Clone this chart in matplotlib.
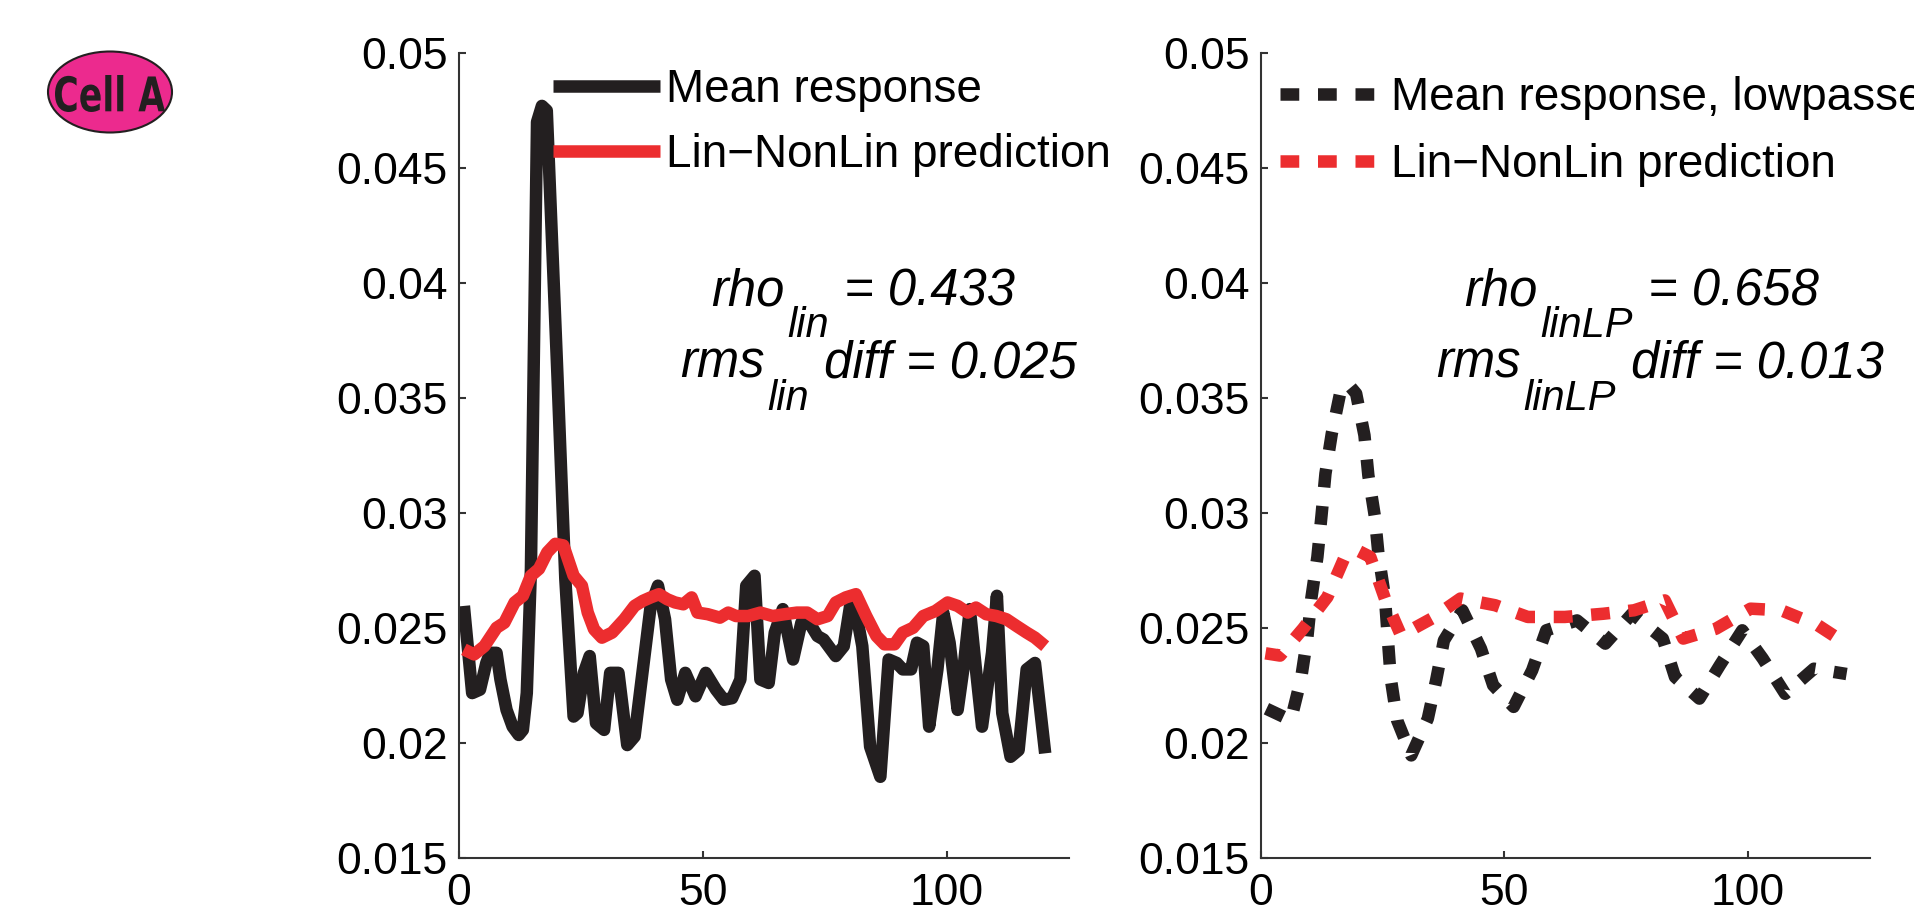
import matplotlib
matplotlib.use("Agg")
import matplotlib.pyplot as plt
from matplotlib.patches import Ellipse, PathPatch
from matplotlib.textpath import TextPath
from matplotlib.font_manager import FontProperties
from matplotlib.transforms import Affine2D

plt.rcParams['font.family'] = ['Liberation Sans', 'DejaVu Sans']

BLACK = '#231F20'
RED = '#EC2D2F'
PINK = '#EC2A8E'

# left panel: raw mean response vs Lin-NonLin prediction
t_mean = [1, 2.7, 4.3, 5.6, 6.4, 7.7, 8.5, 9.75, 11, 12.25, 13.1, 13.9, 14.75, 16, 17, 18,
          20.2, 21.8, 23.5, 24.3, 25.6, 26.8, 28.1, 29.75, 31, 32.7, 34.5, 36, 37.7, 39.3,
          40.8, 42.25, 43.5, 44.75, 46.4, 48.5, 50.6, 52.7, 54.3, 56, 57.7, 58.9, 60.6,
          61.8, 63.5, 64.75, 66.4, 68.5, 70.2, 71.4, 73.5, 74.75, 77.25, 78.9, 80.2, 81,
          82.7, 84.3, 86.4, 88.1, 89.75, 91, 92.7, 93.9, 95.2, 96.4, 98.1, 99.3, 100.6,
          102.25, 103.5, 104.75, 106, 107.25, 109.3, 110.3, 111.4, 113.1, 114.75, 116.4,
          118.1, 120.2]
mean_resp = [0.02596, 0.02217, 0.02232, 0.02348, 0.02392, 0.02392, 0.02276, 0.02144,
             0.02071, 0.02035, 0.02057, 0.02217, 0.02757, 0.0470, 0.0477, 0.0475,
             0.0359, 0.02713, 0.02115, 0.0213, 0.02305, 0.02378, 0.02086, 0.02057,
             0.02305, 0.02305, 0.01991, 0.02028, 0.0232, 0.02596, 0.02684, 0.02538,
             0.02276, 0.02188, 0.02305, 0.02203, 0.02305, 0.02232, 0.02188, 0.02195,
             0.02276, 0.02684, 0.02727, 0.02276, 0.02261, 0.0248, 0.02582, 0.02363,
             0.02523, 0.02538, 0.02465, 0.0245, 0.02378, 0.02421, 0.02596, 0.02618,
             0.02421, 0.01984, 0.01853, 0.02363, 0.02348, 0.0232, 0.0232, 0.02436,
             0.02421, 0.02071, 0.0232, 0.02567, 0.02436, 0.02144, 0.02334, 0.02582,
             0.0232, 0.02071, 0.02392, 0.0264, 0.0213, 0.0194, 0.01969, 0.0232,
             0.02348, 0.01955]

t_pred = [1, 3.1, 5.2, 7.7, 9.3, 11.4, 13.1, 14.75, 16.4, 18.1, 19.75, 21.4, 23.5, 25.2,
          26.4, 27.7, 29.3, 31.4, 33.9, 36, 37.7, 39.3, 41, 42.7, 44.3, 46, 47.7, 48.9,
          51, 53.5, 55.2, 56.8, 59.3, 61.8, 64.3, 66.8, 69.3, 71.4, 73.5, 75.6, 77.25,
          79.3, 81.4, 83.5, 85.6, 87.25, 89.3, 91, 93.1, 95.2, 97.7, 100.2, 102.25,
          104.3, 106, 108.1, 110.2, 112.25, 114.3, 116.4, 118.1, 120.2]
pred = [0.02407, 0.02385, 0.02421, 0.02501, 0.02523, 0.02611, 0.0264, 0.02727, 0.02757,
        0.02829, 0.02866, 0.02859, 0.02727, 0.02684, 0.02567, 0.02494, 0.02458, 0.0248,
        0.02538, 0.02596, 0.02618, 0.02633, 0.02647, 0.02625, 0.02611, 0.02603, 0.02633,
        0.02567, 0.0256, 0.02545, 0.02567, 0.02552, 0.02552, 0.02567, 0.02552, 0.0256,
        0.02567, 0.02567, 0.02538, 0.02552, 0.02611, 0.02633, 0.02647, 0.02552, 0.02465,
        0.02429, 0.02429, 0.0248, 0.02501, 0.02552, 0.02574, 0.02611, 0.02596, 0.02567,
        0.02589, 0.0256, 0.02552, 0.02538, 0.02509, 0.0248, 0.02458, 0.02421]

# right panel: lowpassed response vs prediction
t_lp = [1.2, 6.2, 8.3, 9.6, 10.4, 11.65, 12.5, 13.3, 14.6, 16.3, 17.9, 19.6, 21.3, 22.1,
        23.4, 24.2, 25.5, 26.1, 26.7, 28, 30.9, 34.3, 36, 37.6, 41.4, 45.2, 47.7, 51.9,
        55.7, 58.6, 64.9, 70.7, 76.2, 82.5, 85, 90, 94.2, 98.8, 103, 107.6, 113.5, 120.2]
mean_lp = [0.02149, 0.02099, 0.0228, 0.02461, 0.02628, 0.02809, 0.0299, 0.03171, 0.03345,
           0.03519, 0.03562, 0.03519, 0.03338, 0.03164, 0.0299, 0.02816, 0.02635, 0.02454,
           0.0228, 0.02099, 0.01946, 0.02106, 0.02272, 0.02446, 0.02577, 0.0241, 0.02251,
           0.02157, 0.02316, 0.0249, 0.02533, 0.02432, 0.02562, 0.02454, 0.02287, 0.02193,
           0.02338, 0.0249, 0.02367, 0.02214, 0.02323, 0.0230]

t_pred_lp = [1, 4, 8.7, 13.7, 17.1, 19.8, 22.5, 25.5, 28.8, 35.1, 41, 48.1, 54.8, 62.4,
             70.3, 76.6, 82.9, 86.7, 93.4, 100.5, 106.8, 114.3, 120.6]
pred_lp = [0.0239, 0.0238, 0.02497, 0.02635, 0.02801, 0.02838, 0.02809, 0.02628, 0.02468,
           0.02541, 0.02628, 0.02599, 0.02548, 0.02548, 0.02562, 0.02577, 0.0262, 0.02454,
           0.02497, 0.02584, 0.02577, 0.02512, 0.02425]

yticks = [0.015, 0.02, 0.025, 0.03, 0.035, 0.04, 0.045, 0.05]
ytick_labels = ['0.015', '0.02', '0.025', '0.03', '0.035', '0.04', '0.045', '0.05']
xticks = [0, 50, 100]

W, H = 1915, 911
fig = plt.figure(figsize=(W / 100, H / 100), dpi=100)

ax1 = fig.add_axes([459 / W, 1 - 858 / H, 609.6 / W, 805 / H])
ax2 = fig.add_axes([1260.6 / W, 1 - 858 / H, 609.4 / W, 805 / H])

lw = 9
ax1.plot(t_mean, mean_resp, color=BLACK, lw=lw, solid_capstyle='butt', label='Mean response')
ax1.plot(t_pred, pred, color=RED, lw=lw, solid_capstyle='butt', label='Lin\u2212NonLin prediction')
dash = (0, (1.5, 1.5))
ax2.plot(t_lp, mean_lp, color=BLACK, lw=lw, ls=dash, label='Mean response, lowpassed')
ax2.plot(t_pred_lp, pred_lp, color=RED, lw=lw, ls=dash, label='Lin\u2212NonLin prediction')

for ax in (ax1, ax2):
    ax.set_xlim(0, 125)
    ax.set_ylim(0.015, 0.05)
    ax.set_yticks(yticks)
    ax.set_yticklabels(ytick_labels)
    ax.set_xticks(xticks)
    ax.spines['top'].set_visible(False)
    ax.spines['right'].set_visible(False)
    for s in ('left', 'bottom'):
        ax.spines[s].set_linewidth(1.5)
        ax.spines[s].set_color('#333333')
    ax.tick_params(direction='in', length=5, width=1.5, color='#333333', labelsize=32)
    ax.tick_params(axis='y', pad=8)
    ax.tick_params(axis='x', pad=11)
    ax.patch.set_alpha(0)

ax1.legend(loc='upper left', bbox_to_anchor=(553 / W, 1 - 68 / H), bbox_transform=fig.transFigure,
           frameon=False, fontsize=33, handlelength=2.33, handletextpad=0.13,
           labelspacing=0.46, borderpad=0, borderaxespad=0)
ax2.legend(loc='upper left', bbox_to_anchor=(1280 / W, 1 - 76 / H), bbox_transform=fig.transFigure,
           frameon=False, fontsize=33, handlelength=2.18, handletextpad=0.24,
           labelspacing=0.5, borderpad=0, borderaxespad=0)


def stat_line(ax, x, y, main, sub, rest, size=36.5, subsize=30):
    t0 = fig.text(x / W, 1 - y / H, main, fontsize=size, style='italic', va='baseline')
    t1 = ax.annotate(sub, xy=(1, 0), xycoords=t0, xytext=(2, -21.6), textcoords='offset points',
                     fontsize=subsize, style='italic', va='bottom', annotation_clip=False)
    ax.annotate(rest, xy=(1, 0), xycoords=(t1, t0), xytext=(1, 0), textcoords='offset points',
                fontsize=size, style='italic', va='bottom', annotation_clip=False)


stat_line(ax1, 711, 305, 'rho', 'lin', ' = 0.433')
stat_line(ax1, 680, 378, 'rms', 'lin', ' diff = 0.025')
stat_line(ax2, 1464, 305, 'rho', 'linLP', ' = 0.658')
stat_line(ax2, 1436, 378, 'rms', 'linLP', ' diff = 0.013')

# "Cell A" badge: condensed heavy lettering inside a pink ellipse
fig.add_artist(Ellipse((110 / W, 1 - 92 / H), 124 / W, 81 / H, transform=fig.transFigure,
                       facecolor=PINK, edgecolor=BLACK, lw=1.5))
tp = TextPath((0, 0), 'Cell A', size=100, prop=FontProperties(family='DejaVu Sans', weight='bold'))
bb = tp.get_extents()
tr = (Affine2D().translate(-bb.x0 - bb.width / 2, -bb.y0 - bb.height / 2)
      .scale(110 / bb.width, 37 / bb.height).translate(110, H - 93.5))
fig.add_artist(PathPatch(tp, transform=tr, facecolor=BLACK, edgecolor='none'))

fig.savefig('out.png', dpi=100)
